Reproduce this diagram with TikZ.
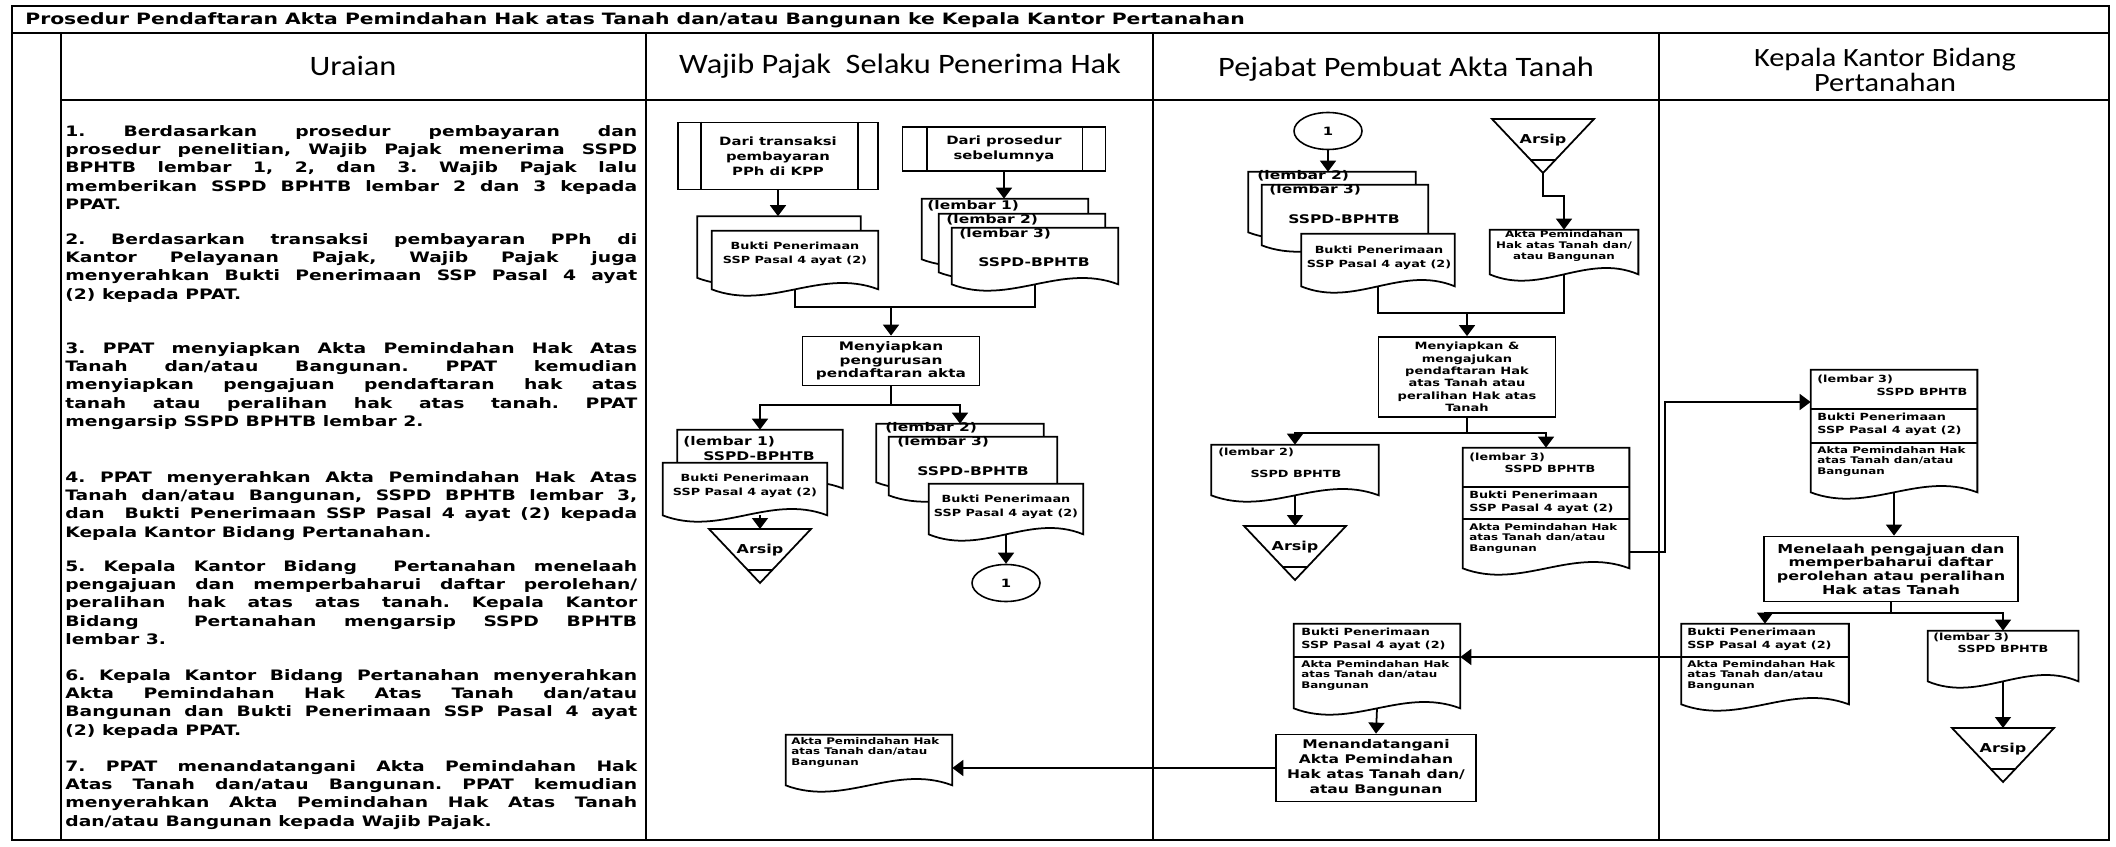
\documentclass[tikz,border=0pt]{standalone}
\usepackage{fontspec}
\newfontfamily\chartfont[FakeStretch=1.3]{DejaVu Sans}
\newfontfamily\headfont[FakeStretch=1.15]{Carlito}
\usetikzlibrary{positioning,shapes.geometric,arrows.meta}
\frenchspacing

% simbol arsip (segitiga terbalik)
\newcommand{\arsip}[3]{%
  \draw[garis, fill=white] (#2-51,#3) -- (#2+51,#3) -- (#2,#3+54) -- cycle;
  \draw[garis] (#2-12,#3+41) -- (#2+12,#3+41);
  \coordinate (#1-atas) at (#2,#3);
  \coordinate (#1-bawah) at (#2,#3+54);
  \node[tarsip] (#1) at (#2,#3+21) {Arsip};
}
% simbol dokumen: nama, x, y (tengah), lebar, tinggi
\newcommand{\dokumen}[5]{%
  \node[ukuran={#4}{#5}, inner sep=0pt] (#1) at (#2,#3) {};
  \draw[garis, fill=white] (#1.north west) -- (#1.north east) -- (#1.south east)
    .. controls +(-#4*0.35,-22) and +(#4*0.35,22) .. (#1.south west) -- cycle;
}

\begin{document}
\begin{tikzpicture}[x=0.02cm, y=-0.02cm,
  bingkai/.style={line width=1.4pt},
  garis/.style={line width=1pt},
  panah/.style={line width=1pt, -{Triangle[length=0.22cm,width=0.32cm]}},
  ukuran/.style 2 args={minimum width=#1*0.02cm, minimum height=#2*0.02cm},
  huruf/.style 2 args={font=\chartfont\bfseries\fontsize{#1}{#2}\selectfont},
  proses/.style={draw, fill=white, line width=1pt, inner sep=0pt, align=center},
  konektor/.style={draw, ellipse, fill=white, line width=0.9pt, inner sep=0pt, huruf={6.5}{8}},
  tdok/.style={inner sep=0pt, align=center, huruf={5.6}{7.6}},
  tlembar/.style={inner sep=0pt, huruf={6.8}{8}},
  tkecil/.style={inner sep=0pt, align=left, huruf={5.2}{6}},
  tsedang/.style={inner sep=0pt, align=left, huruf={5.6}{7}},
  tarsip/.style={inner sep=0pt, huruf={7}{8}},
  uraian/.style={anchor=north west, inner sep=0pt, text width=11.44cm, align=justify, huruf={8.2}{10.43}},
  judulkolom/.style={inner sep=0pt, align=center, font=\headfont\fontsize{16}{15}\selectfont}]

\fill[white] (0,0) rectangle (2116,847);

% bingkai tabel
\draw[bingkai] (12,6) rectangle (2109,840);
\draw[bingkai] (12,33) -- (2109,33);
\draw[bingkai] (61,100) -- (2109,100);
\foreach \x in {61,646,1153,1659}
  \draw[bingkai] (\x,33) -- (\x,840);

\node[anchor=west, inner sep=0pt, huruf={8.9}{10}] (judul) at (25,20) {Prosedur Pendaftaran Akta Pemindahan Hak atas Tanah dan/atau Bangunan ke Kepala Kantor Pertanahan};

\node[judulkolom] (hUraian) at (353,66) {Uraian};
\node[judulkolom] (hWP) at (900,66) {Wajib Pajak\ \ Selaku Penerima Hak};
\node[judulkolom] (hPPAT) at (1406,69) {Pejabat Pembuat Akta Tanah};
\node[judulkolom, font=\headfont\fontsize{15}{14}\selectfont] (hKantah) at (1885,70) {Kepala Kantor Bidang\\Pertanahan};

% uraian
\node[uraian] (u1) at (65,125) {1. Berdasarkan prosedur pembayaran dan\linebreak prosedur penelitian, Wajib Pajak menerima SSPD\linebreak BPHTB lembar 1, 2, dan 3. Wajib Pajak lalu\linebreak memberikan SSPD BPHTB lembar 2 dan 3 kepada\linebreak PPAT.};
\node[uraian] (u2) at (65,233) {2. Berdasarkan transaksi pembayaran PPh di\linebreak Kantor Pelayanan Pajak, Wajib Pajak juga\linebreak menyerahkan Bukti Penerimaan SSP Pasal 4 ayat\linebreak (2) kepada PPAT.};
\node[uraian] (u3) at (65,342) {3. PPAT menyiapkan Akta Pemindahan Hak Atas\linebreak Tanah dan/atau Bangunan. PPAT kemudian\linebreak menyiapkan pengajuan pendaftaran hak atas\linebreak tanah atau peralihan hak atas tanah. PPAT\linebreak mengarsip SSPD BPHTB lembar 2.};
\node[uraian] (u4) at (65,471) {4. PPAT menyerahkan Akta Pemindahan Hak Atas\linebreak Tanah dan/atau Bangunan, SSPD BPHTB lembar 3,\linebreak dan\ \ Bukti Penerimaan SSP Pasal 4 ayat (2) kepada\linebreak Kepala Kantor Bidang Pertanahan.};
\node[uraian] (u5) at (65,560) {5. Kepala Kantor Bidang\ \ Pertanahan menelaah\linebreak pengajuan dan memperbaharui daftar perolehan/\linebreak peralihan hak atas atas tanah. Kepala Kantor\linebreak Bidang\ \ Pertanahan mengarsip SSPD BPHTB\linebreak lembar 3.};
\node[uraian] (u6) at (65,669) {6. Kepala Kantor Bidang Pertanahan menyerahkan\linebreak Akta Pemindahan Hak Atas Tanah dan/atau\linebreak Bangunan dan Bukti Penerimaan SSP Pasal 4 ayat\linebreak (2) kepada PPAT.};
\node[uraian] (u7) at (65,760) {7. PPAT menandatangani Akta Pemindahan Hak\linebreak Atas Tanah dan/atau Bangunan. PPAT kemudian\linebreak menyerahkan Akta Pemindahan Hak Atas Tanah\linebreak dan/atau Bangunan kepada Wajib Pajak.};

% Wajib Pajak
\node[proses, ukuran={200}{67}, huruf={6.5}{8.5}] (dariKPP) at (778,156) {Dari transaksi\\pembayaran\\PPh di KPP};
\draw[garis] ([xshift=0.48cm]dariKPP.north west) -- ([xshift=0.48cm]dariKPP.south west);
\draw[garis] ([xshift=-0.42cm]dariKPP.north east) -- ([xshift=-0.42cm]dariKPP.south east);
\node[proses, ukuran={203}{44}, huruf={6.5}{8.5}] (dariSebelum) at (1004,149) {Dari prosedur\\sebelumnya};
\draw[garis] ([xshift=0.5cm]dariSebelum.north west) -- ([xshift=0.5cm]dariSebelum.south west);
\draw[garis] ([xshift=-0.48cm]dariSebelum.north east) -- ([xshift=-0.48cm]dariSebelum.south east);

\dokumen{buktiA0}{779}{247}{163}{61}
\dokumen{buktiA}{795}{260}{166}{58}
\node[tdok] (buktiA-t) at (795,254) {Bukti Penerimaan\\SSP Pasal 4 ayat (2)};
\draw[panah] (dariKPP.south) -- (dariKPP.south |- buktiA0.north);

\dokumen{sspd1}{1005}{229}{166}{60}
\node[tlembar, anchor=west] (sspd1-t) at (927,206) {(lembar 1)};
\dokumen{sspd2}{1022}{243}{166}{58}
\node[tlembar, anchor=west] (sspd2-t) at (946,220) {(lembar 2)};
\dokumen{sspd3}{1035}{256}{166}{56}
\node[tlembar, anchor=west] (sspd3-t) at (959,234) {(lembar 3)};
\node[tlembar] (sspd3-n) at (1034,262) {SSPD-BPHTB};
\draw[panah] (dariSebelum.south) -- (dariSebelum.south |- sspd1.north);

\coordinate (gabungA) at (891,307);
\draw[garis] (buktiA.south) |- (gabungA);
\draw[garis] (sspd3.south) |- (gabungA);
\node[proses, ukuran={177}{49}, huruf={6.7}{7.6}] (siapAkta) at (891,361) {Menyiapkan\\pengurusan\\pendaftaran akta};
\draw[panah] (gabungA) -- (siapAkta.north);

\coordinate (cabangA) at (891,405);
\draw[garis] (siapAkta.south) -- (cabangA);

\dokumen{lembar1}{760}{459}{165}{58}
\node[tlembar, anchor=west] (lembar1-t) at (683,442) {(lembar 1)};
\node[tlembar] (lembar1-n) at (759,456) {SSPD-BPHTB};
\dokumen{bukti1}{745}{489}{164}{52}
\node[tdok] (bukti1-t) at (745,486) {Bukti Penerimaan\\SSP Pasal 4 ayat (2)};
\arsip{arsip1}{760}{529}
\draw[panah] (bukti1.south -| arsip1-atas) -- (arsip1-atas);

\dokumen{lembar2}{960}{453}{167}{58}
\node[tlembar, anchor=west] (lembar2-t) at (885,428) {(lembar 2)};
\dokumen{lembar3}{973}{466}{168}{58}
\node[tlembar, anchor=west] (lembar3-t) at (897,442) {(lembar 3)};
\node[tlembar] (lembar3-n) at (973,471) {SSPD-BPHTB};
\dokumen{bukti23}{1006}{509}{154}{50}
\node[tdok] (bukti23-t) at (1006,507) {Bukti Penerimaan\\SSP Pasal 4 ayat (2)};
\draw[panah] (cabangA) -| (lembar1.north);
\draw[panah] (cabangA) -| (lembar2.north);
\node[konektor, ukuran={68}{37}] (sambung1a) at (1006,583) {1};
\draw[panah] (bukti23.south) -- (sambung1a.north);

\dokumen{aktaWP}{869}{760}{166}{50}
\node[tkecil, anchor=north west] (aktaWP-t) at (791,737) {Akta Pemindahan Hak\\atas Tanah dan/atau\\Bangunan};

% PPAT
\node[konektor, ukuran={68}{37}] (sambung1b) at (1328,131) {1};
\dokumen{ppat2}{1332}{202}{167}{60}
\node[tlembar, anchor=west] (ppat2-t) at (1257,176) {(lembar 2)};
\dokumen{ppat3}{1345}{215}{166}{60}
\node[tlembar, anchor=west] (ppat3-t) at (1269,190) {(lembar 3)};
\node[tlembar] (ppat3-n) at (1344,219) {SSPD-BPHTB};
\dokumen{ppatBukti}{1378}{260}{153}{52}
\node[tdok] (ppatBukti-t) at (1379,258) {Bukti Penerimaan\\SSP Pasal 4 ayat (2)};
\draw[panah] (sambung1b.south) -- (sambung1b.south |- ppat2.north);

\arsip{arsip2}{1543}{119}
\dokumen{aktaPPAT}{1564}{252}{148}{44}
\node[tkecil, align=center] (aktaPPAT-t) at (1564,246) {Akta Pemindahan\\Hak atas Tanah dan/\\atau Bangunan};
\draw[panah] (arsip2-bawah) -- ++(0,23) -| (aktaPPAT.north);

\coordinate (gabungB) at (1467,313);
\draw[garis] (ppatBukti.south) |- (gabungB);
\draw[garis] (aktaPPAT.south) |- (gabungB);
\node[proses, ukuran={177}{80}, huruf={5.7}{7}] (siapDaftar) at (1467,377) {Menyiapkan \&\\mengajukan\\pendaftaran Hak\\atas Tanah atau\\peralihan Hak atas\\Tanah};
\draw[panah] (gabungB) -- (siapDaftar.north);

\coordinate (cabangB) at (1467,433);
\draw[garis] (siapDaftar.south) -- (cabangB);

\dokumen{ppatArsip2}{1295}{470}{167}{50}
\node[tsedang, anchor=west] (ppatArsip2-t) at (1218,452) {(lembar 2)};
\node[tsedang] (ppatArsip2-n) at (1296,474) {SSPD BPHTB};
\arsip{arsip3}{1295}{526}
\draw[panah] (ppatArsip2.south) -- (arsip3-atas);

\dokumen{ppatKirim}{1546}{508}{166}{120}
\draw[garis] (1463,487) -- (1629,487);
\draw[garis] (1463,519) -- (1629,519);
\node[tsedang, anchor=west] (ppatKirim-t1) at (1469,457) {(lembar 3)};
\node[tsedang] (ppatKirim-t2) at (1550,469) {SSPD BPHTB};
\node[tsedang, anchor=north west] (ppatKirim-t3) at (1469,491) {Bukti Penerimaan\\SSP Pasal 4 ayat (2)};
\node[tkecil, anchor=north west] (ppatKirim-t4) at (1469,523) {Akta Pemindahan Hak\\atas Tanah dan/atau\\Bangunan};
\draw[panah] (cabangB) -| (ppatArsip2.north);
\draw[panah] (cabangB) -| (ppatKirim.north);

\dokumen{ppatBawah}{1377}{666}{166}{84}
\draw[garis] (1294,657) -- (1460,657);
\node[tsedang, anchor=north west] (ppatBawah-t1) at (1301,628) {Bukti Penerimaan\\SSP Pasal 4 ayat (2)};
\node[tkecil, anchor=north west] (ppatBawah-t2) at (1301,660) {Akta Pemindahan Hak\\atas Tanah dan/atau\\Bangunan};

\node[proses, ukuran={200}{67}, huruf={6.8}{8.5}] (tandaTangan) at (1376,768) {Menandatangani\\Akta Pemindahan\\Hak atas Tanah dan/\\atau Bangunan};
\draw[panah] (ppatBawah.south) -- (tandaTangan.north);
\draw[panah] (tandaTangan.west) -- (tandaTangan.west -| aktaWP.east);

% Kepala Kantor Bidang Pertanahan
\dokumen{kepTerima}{1894}{431}{166}{122}
\draw[garis] (1811,409) -- (1977,409);
\draw[garis] (1811,443) -- (1977,443);
\node[tsedang, anchor=west] (kepTerima-t1) at (1817,379) {(lembar 3)};
\node[tsedang] (kepTerima-t2) at (1922,392) {SSPD BPHTB};
\node[tsedang, anchor=north west] (kepTerima-t3) at (1817,413) {Bukti Penerimaan\\SSP Pasal 4 ayat (2)};
\node[tkecil, anchor=north west] (kepTerima-t4) at (1817,446) {Akta Pemindahan Hak\\atas Tanah dan/atau\\Bangunan};
\draw[panah] ([yshift=-0.88cm]ppatKirim.east) -- ++(36,0) |- ([yshift=0.58cm]kepTerima.west);

\node[proses, ukuran={254}{65}, huruf={7}{7.8}] (telaah) at (1891,569) {Menelaah pengajuan dan\\memperbaharui daftar\\perolehan atau peralihan\\Hak atas Tanah};
\draw[panah] (kepTerima.south) -- (kepTerima.south |- telaah.north);

\coordinate (cabangC) at (1891,613);
\draw[garis] (telaah.south) -- (cabangC);

\dokumen{kepKembali}{1765}{664}{167}{80}
\draw[garis] (1682,657) -- (1849,657);
\node[tsedang, anchor=north west] (kepKembali-t1) at (1687,628) {Bukti Penerimaan\\SSP Pasal 4 ayat (2)};
\node[tkecil, anchor=north west] (kepKembali-t2) at (1687,660) {Akta Pemindahan Hak\\atas Tanah dan/atau\\Bangunan};

\dokumen{kepArsip3}{2003}{656}{150}{50}
\node[tsedang, anchor=west] (kepArsip3-t) at (1933,637) {(lembar 3)};
\node[tsedang] (kepArsip3-n) at (2003,649) {SSPD BPHTB};
\arsip{arsip4}{2003}{728}
\draw[panah] (kepArsip3.south) -- (arsip4-atas);

\draw[panah] (cabangC) -| (kepKembali.north);
\draw[panah] (cabangC) -| (kepArsip3.north);
\draw[panah] ([yshift=0.14cm]kepKembali.west) -- ([yshift=0.14cm]kepKembali.west -| ppatBawah.east);
\end{tikzpicture}
\end{document}
